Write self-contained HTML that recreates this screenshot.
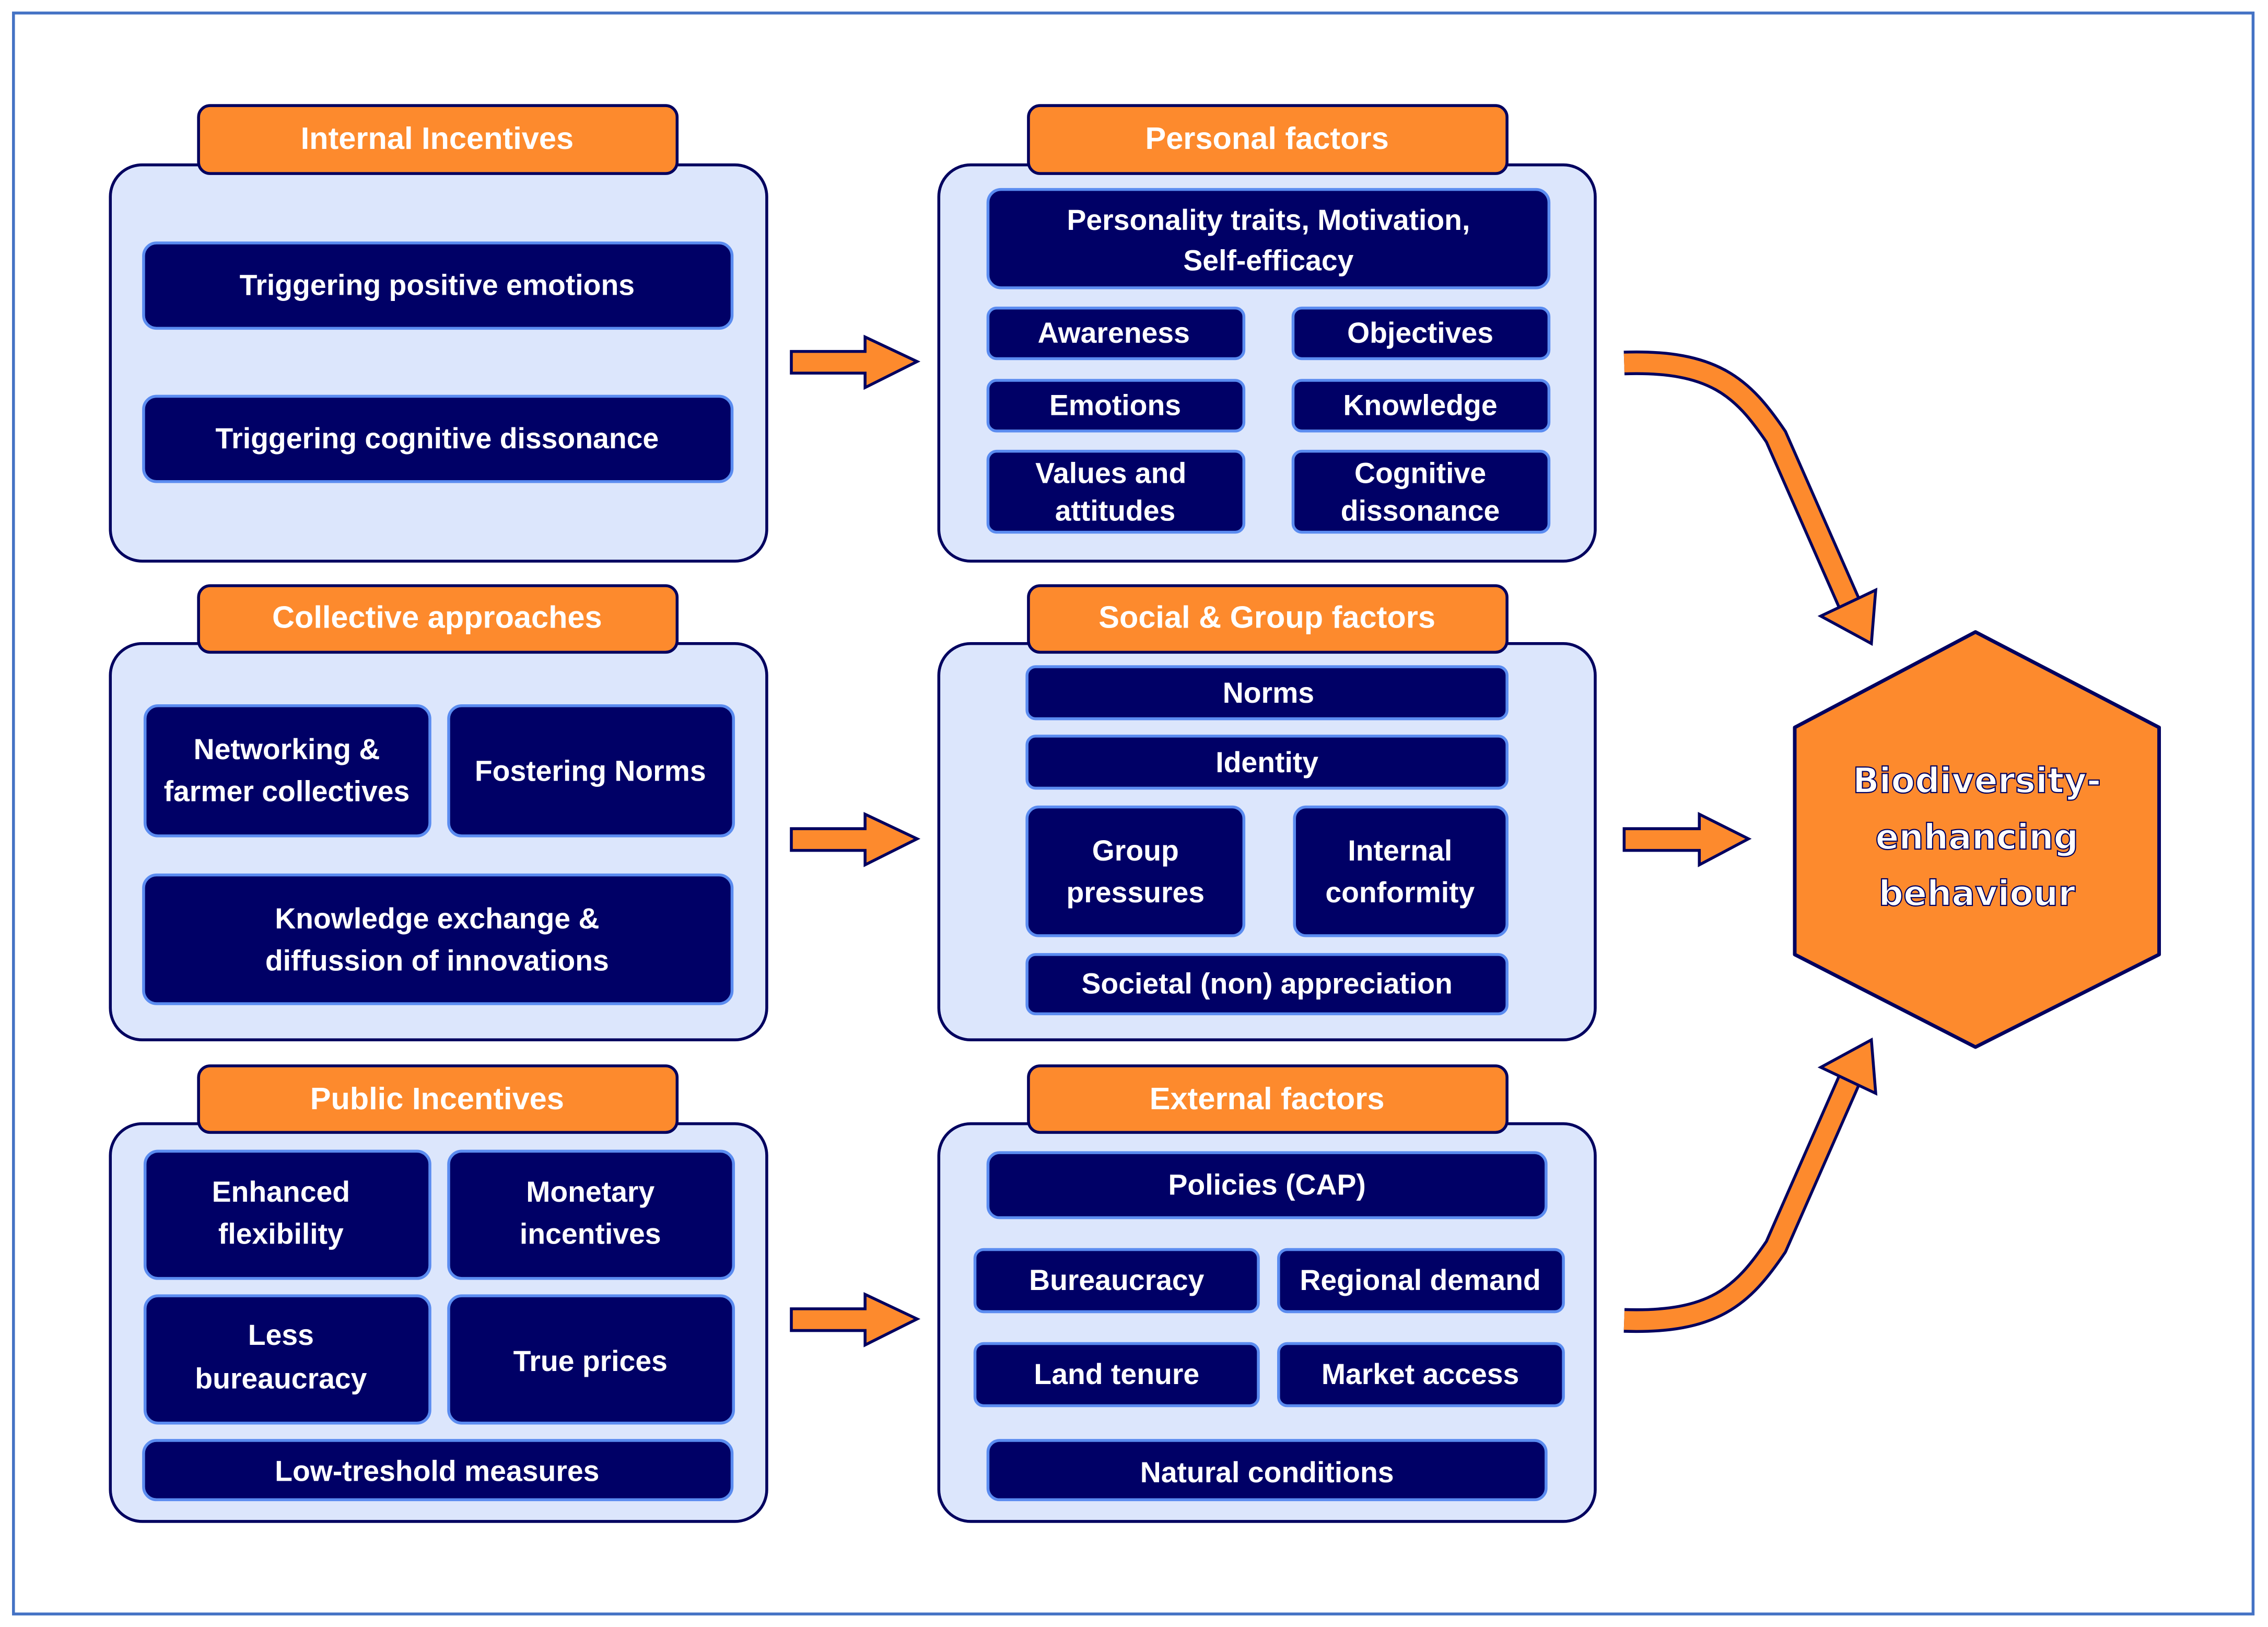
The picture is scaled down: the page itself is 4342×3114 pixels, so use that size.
<!DOCTYPE html>
<html><head><meta charset="utf-8"><style>
html,body{margin:0;padding:0;background:#fff;}
svg{display:block;}
text{font-family:"Liberation Sans",sans-serif;font-weight:bold;fill:#fff;text-anchor:middle;}
.p{fill:#dce6fc;stroke:#00005f;stroke-width:2;}
.h{fill:#fd8a2d;stroke:#00005f;stroke-width:2;}
.b{fill:#000066;stroke:#5b8cf0;stroke-width:2;}
.ht{font-size:21.5px;}
.bt{font-size:20px;}
.ar{fill:#fd8a2d;stroke:#00005f;stroke-width:2;stroke-linejoin:miter;}
</style></head><body>
<svg width="4342" height="3114" viewBox="0 0 1568 1125" xmlns="http://www.w3.org/2000/svg">
<rect x="0" y="0" width="1568" height="1125" fill="#fff"/>
<rect x="9" y="9" width="1549" height="1107" fill="none" stroke="#4472c4" stroke-width="2"/>

<!-- Left panels -->
<rect class="p" x="76" y="114" width="454" height="274" rx="22"/>
<rect class="h" x="137" y="73" width="331" height="47" rx="8"/>
<text class="ht" x="302" y="103">Internal Incentives</text>
<rect class="b" x="99" y="168" width="407" height="59" rx="9"/>
<text class="bt" x="302" y="204">Triggering positive emotions</text>
<rect class="b" x="99" y="274" width="407" height="59" rx="9"/>
<text class="bt" x="302" y="310">Triggering cognitive dissonance</text>

<rect class="p" x="76" y="445" width="454" height="274" rx="22"/>
<rect class="h" x="137" y="405" width="331" height="46" rx="8"/>
<text class="ht" x="302" y="434">Collective approaches</text>
<rect class="b" x="100" y="488" width="197" height="90" rx="9"/>
<text class="bt" x="198" y="525">Networking &amp;</text>
<text class="bt" x="198" y="554">farmer collectives</text>
<rect class="b" x="310" y="488" width="197" height="90" rx="9"/>
<text class="bt" x="408" y="540">Fostering Norms</text>
<rect class="b" x="99" y="605" width="407" height="89" rx="9"/>
<text class="bt" x="302" y="642">Knowledge exchange &amp;</text>
<text class="bt" x="302" y="671">diffussion of innovations</text>

<rect class="p" x="76" y="777" width="454" height="275" rx="22"/>
<rect class="h" x="137" y="737" width="331" height="46" rx="8"/>
<text class="ht" x="302" y="767">Public Incentives</text>
<rect class="b" x="100" y="796" width="197" height="88" rx="9"/>
<text class="bt" x="194" y="831">Enhanced</text>
<text class="bt" x="194" y="860">flexibility</text>
<rect class="b" x="310" y="796" width="197" height="88" rx="9"/>
<text class="bt" x="408" y="831">Monetary</text>
<text class="bt" x="408" y="860">incentives</text>
<rect class="b" x="100" y="896" width="197" height="88" rx="9"/>
<text class="bt" x="194" y="930">Less</text>
<text class="bt" x="194" y="960">bureaucracy</text>
<rect class="b" x="310" y="896" width="197" height="88" rx="9"/>
<text class="bt" x="408" y="948">True prices</text>
<rect class="b" x="99" y="996" width="407" height="41" rx="9"/>
<text class="bt" x="302" y="1024">Low-treshold measures</text>

<!-- Middle panels -->
<rect class="p" x="649" y="114" width="454" height="274" rx="22"/>
<rect class="h" x="711" y="73" width="331" height="47" rx="8"/>
<text class="ht" x="876" y="103">Personal factors</text>
<rect class="b" x="683" y="131" width="388" height="68" rx="9"/>
<text class="bt" x="877" y="159">Personality traits, Motivation,</text>
<text class="bt" x="877" y="187">Self-efficacy</text>
<rect class="b" x="683" y="213" width="177" height="35" rx="6"/>
<text class="bt" x="770" y="237">Awareness</text>
<rect class="b" x="894" y="213" width="177" height="35" rx="6"/>
<text class="bt" x="982" y="237">Objectives</text>
<rect class="b" x="683" y="263" width="177" height="35" rx="6"/>
<text class="bt" x="771" y="287">Emotions</text>
<rect class="b" x="894" y="263" width="177" height="35" rx="6"/>
<text class="bt" x="982" y="287">Knowledge</text>
<rect class="b" x="683" y="312" width="177" height="56" rx="6"/>
<text class="bt" x="768" y="334">Values and</text>
<text class="bt" x="771" y="360">attitudes</text>
<rect class="b" x="894" y="312" width="177" height="56" rx="6"/>
<text class="bt" x="982" y="334">Cognitive</text>
<text class="bt" x="982" y="360">dissonance</text>

<rect class="p" x="649" y="445" width="454" height="274" rx="22"/>
<rect class="h" x="711" y="405" width="331" height="46" rx="8"/>
<text class="ht" x="876" y="434">Social &amp; Group factors</text>
<rect class="b" x="710" y="461" width="332" height="36" rx="6"/>
<text class="bt" x="877" y="486">Norms</text>
<rect class="b" x="710" y="509" width="332" height="36" rx="6"/>
<text class="bt" x="876" y="534">Identity</text>
<rect class="b" x="710" y="558" width="150" height="89" rx="8"/>
<text class="bt" x="785" y="595">Group</text>
<text class="bt" x="785" y="624">pressures</text>
<rect class="b" x="895" y="558" width="147" height="89" rx="8"/>
<text class="bt" x="968" y="595">Internal</text>
<text class="bt" x="968" y="624">conformity</text>
<rect class="b" x="710" y="660" width="332" height="41" rx="6"/>
<text class="bt" x="876" y="687">Societal (non) appreciation</text>

<rect class="p" x="649" y="777" width="454" height="275" rx="22"/>
<rect class="h" x="711" y="737" width="331" height="46" rx="8"/>
<text class="ht" x="876" y="767">External factors</text>
<rect class="b" x="683" y="797" width="386" height="45" rx="8"/>
<text class="bt" x="876" y="826">Policies (CAP)</text>
<rect class="b" x="674" y="864" width="196" height="43" rx="6"/>
<text class="bt" x="772" y="892">Bureaucracy</text>
<rect class="b" x="884" y="864" width="197" height="43" rx="6"/>
<text class="bt" x="982" y="892">Regional demand</text>
<rect class="b" x="674" y="929" width="196" height="43" rx="6"/>
<text class="bt" x="772" y="957">Land tenure</text>
<rect class="b" x="884" y="929" width="197" height="43" rx="6"/>
<text class="bt" x="982" y="957">Market access</text>
<rect class="b" x="683" y="996" width="386" height="41" rx="8"/>
<text class="bt" x="876" y="1025">Natural conditions</text>

<!-- Straight arrows -->
<polygon class="ar" points="547,243 598,243 598,233 634,250 598,268 598,258 547,258"/>
<polygon class="ar" points="547,573 598,573 598,563 634,580 598,598 598,588 547,588"/>
<polygon class="ar" points="547,905 598,905 598,895 634,912 598,930 598,920 547,920"/>
<polygon class="ar" points="1123,573 1175,573 1175,563 1209,580 1175,598 1175,588 1123,588"/>

<!-- Curved arrows -->
<path d="M1123,251 C1185,249 1205,268 1228,302 L1279,418" fill="none" stroke="#00005f" stroke-width="17"/>
<path d="M1123,251 C1185,249 1205,268 1228,302 L1279,418" fill="none" stroke="#fd8a2d" stroke-width="13"/>
<polygon class="ar" points="1259,426 1297,408 1294,445"/>
<path d="M1123,913 C1185,915 1205,896 1228,862 L1279,746" fill="none" stroke="#00005f" stroke-width="17"/>
<path d="M1123,913 C1185,915 1205,896 1228,862 L1279,746" fill="none" stroke="#fd8a2d" stroke-width="13"/>
<polygon class="ar" points="1259,738 1297,756 1294,719"/>

<!-- Hexagon -->
<polygon points="1366,437 1493,503 1493,660 1366,724 1241,660 1241,503" fill="#fd8a2d" stroke="#00005f" stroke-width="2.5" stroke-linejoin="round"/>
<g style="font-family:'DejaVu Sans',sans-serif;font-size:24px;font-weight:bold;fill:#fff;stroke:#00005f;stroke-width:0.8;text-anchor:middle;">
<text x="1367" y="548" style="font-family:'DejaVu Sans',sans-serif;">Biodiversity-</text>
<text x="1367" y="587" style="font-family:'DejaVu Sans',sans-serif;">enhancing</text>
<text x="1367" y="626" style="font-family:'DejaVu Sans',sans-serif;">behaviour</text>
</g>
</svg>
</body></html>
